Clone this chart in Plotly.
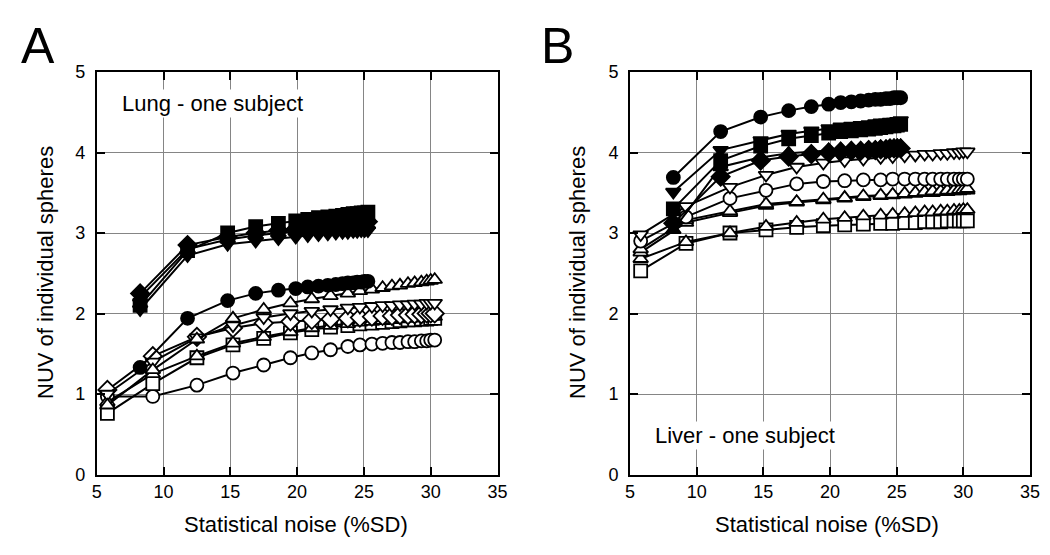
import plotly.graph_objects as go
from plotly.subplots import make_subplots

# x positions (statistical noise %SD)
hx = [5.8, 9.2, 12.5, 15.2, 17.5, 19.5, 21.1, 22.5, 23.8, 24.7, 25.6, 26.4, 27.1, 27.7, 28.3, 28.8, 29.3, 29.7, 30.0, 30.3]
fx = [8.25, 11.8, 14.8, 16.9, 18.6, 19.9, 20.8, 21.6, 22.3, 22.9, 23.4, 23.8, 24.2, 24.5, 24.8, 25.05, 25.3]

# Panel A - Lung (filled series)
A_f_square = [2.10, 2.78, 3.00, 3.08, 3.12, 3.15, 3.17, 3.19, 3.20, 3.21, 3.22, 3.23, 3.24, 3.24, 3.25, 3.25, 3.26]
A_f_diamond = [2.25, 2.85, 2.95, 3.00, 3.03, 3.05, 3.07, 3.08, 3.09, 3.10, 3.11, 3.12, 3.12, 3.13, 3.13, 3.14, 3.14]
A_f_triangle = [2.20, 2.80, 2.92, 2.97, 3.00, 3.02, 3.04, 3.05, 3.06, 3.07, 3.08, 3.08, 3.09, 3.09, 3.10, 3.10, 3.10]
A_f_tridown = [2.05, 2.72, 2.86, 2.90, 2.93, 2.95, 2.97, 2.98, 2.99, 3.00, 3.01, 3.01, 3.02, 3.02, 3.03, 3.03, 3.03]
A_f_circle = [1.33, 1.94, 2.16, 2.25, 2.29, 2.31, 2.33, 2.34, 2.35, 2.36, 2.37, 2.38, 2.38, 2.39, 2.39, 2.40, 2.40]
# Panel A - Lung (open series)
A_o_triangle = [0.86, 1.30, 1.68, 1.94, 2.05, 2.13, 2.18, 2.22, 2.25, 2.28, 2.30, 2.32, 2.34, 2.35, 2.37, 2.38, 2.39, 2.40, 2.41, 2.42]
A_o_tridown = [1.00, 1.40, 1.70, 1.85, 1.95, 2.00, 2.03, 2.05, 2.07, 2.08, 2.09, 2.10, 2.10, 2.11, 2.11, 2.12, 2.12, 2.13, 2.13, 2.13]
A_o_diamond = [1.05, 1.47, 1.71, 1.82, 1.88, 1.90, 1.92, 1.93, 1.94, 1.95, 1.96, 1.97, 1.97, 1.98, 1.98, 1.99, 1.99, 2.00, 2.00, 2.00]
A_o_triright = [0.90, 1.25, 1.47, 1.63, 1.71, 1.77, 1.82, 1.85, 1.87, 1.89, 1.90, 1.91, 1.92, 1.93, 1.94, 1.94, 1.95, 1.95, 1.96, 1.96]
A_o_square = [0.76, 1.13, 1.45, 1.61, 1.69, 1.76, 1.80, 1.83, 1.85, 1.87, 1.88, 1.89, 1.90, 1.91, 1.92, 1.92, 1.93, 1.93, 1.94, 1.94]
A_o_circle = [0.97, 0.97, 1.11, 1.26, 1.36, 1.45, 1.51, 1.55, 1.59, 1.61, 1.62, 1.63, 1.64, 1.64, 1.65, 1.65, 1.66, 1.66, 1.67, 1.67]

# Panel B - Liver (filled series)
B_f_circle = [3.69, 4.26, 4.44, 4.52, 4.57, 4.60, 4.62, 4.63, 4.64, 4.65, 4.66, 4.66, 4.67, 4.67, 4.68, 4.68, 4.68]
B_f_tridown = [3.51, 4.03, 4.15, 4.23, 4.27, 4.30, 4.32, 4.33, 4.34, 4.35, 4.36, 4.37, 4.37, 4.38, 4.38, 4.39, 4.40]
B_f_square = [3.30, 3.90, 4.08, 4.17, 4.21, 4.24, 4.26, 4.27, 4.28, 4.29, 4.30, 4.31, 4.32, 4.33, 4.33, 4.34, 4.35]
B_f_diamond = [3.12, 3.70, 3.90, 3.95, 3.98, 4.00, 4.01, 4.02, 4.02, 4.03, 4.03, 4.04, 4.04, 4.05, 4.05, 4.05, 4.05]
B_f_triangle = [3.04, 3.82, 3.94, 3.99, 4.01, 4.03, 4.04, 4.05, 4.05, 4.06, 4.06, 4.07, 4.07, 4.07, 4.08, 4.08, 4.08]
# Panel B - Liver (open series)
B_o_tridown = [2.98, 3.33, 3.57, 3.72, 3.82, 3.87, 3.90, 3.92, 3.94, 3.95, 3.96, 3.97, 3.98, 3.98, 3.99, 3.99, 4.00, 4.00, 4.01, 4.01]
B_o_circle = [2.90, 3.20, 3.43, 3.53, 3.61, 3.64, 3.65, 3.66, 3.66, 3.67, 3.67, 3.67, 3.67, 3.67, 3.67, 3.67, 3.67, 3.67, 3.67, 3.67]
B_o_triright = [2.80, 3.16, 3.27, 3.36, 3.39, 3.42, 3.44, 3.46, 3.47, 3.48, 3.49, 3.50, 3.51, 3.52, 3.52, 3.53, 3.53, 3.54, 3.54, 3.55]
B_o_diamond = [2.76, 3.13, 3.25, 3.34, 3.38, 3.41, 3.43, 3.45, 3.46, 3.47, 3.48, 3.49, 3.50, 3.50, 3.51, 3.51, 3.52, 3.52, 3.53, 3.53]
B_o_triangle = [2.68, 2.89, 3.00, 3.08, 3.13, 3.17, 3.19, 3.21, 3.22, 3.23, 3.24, 3.25, 3.26, 3.26, 3.27, 3.27, 3.28, 3.28, 3.29, 3.29]
B_o_square = [2.53, 2.87, 3.00, 3.04, 3.07, 3.09, 3.10, 3.11, 3.12, 3.12, 3.13, 3.13, 3.14, 3.14, 3.14, 3.15, 3.15, 3.15, 3.15, 3.15]

x_ticks = [5, 10, 15, 20, 25, 30, 35]
y_ticks = [0, 1, 2, 3, 4, 5]

FONT = "Liberation Sans, Arial, Helvetica, sans-serif"
W, H = 1034, 539   # figure size; page body margin (8px each side) brings it to the window size
OFF = 8            # page offset of the figure

fig = make_subplots(rows=1, cols=2)

def add(x, y, symbol, filled, col, size=13):
    fig.add_trace(go.Scatter(
        x=x, y=y, mode="lines+markers",
        line=dict(color="black", width=2),
        marker=dict(symbol=symbol, size=size,
                    color="black" if filled else "white",
                    line=dict(color="black", width=1.8)),
        showlegend=False, cliponaxis=False), row=1, col=col)

# Panel A
add(hx, A_o_circle, "circle", False, 1)
add(hx, A_o_square, "square", False, 1)
add(hx, A_o_triright, "triangle-up", False, 1)
add(hx, A_o_diamond, "diamond", False, 1, 14)
add(hx, A_o_tridown, "triangle-down", False, 1)
add(hx, A_o_triangle, "triangle-up", False, 1)
add(fx, A_f_circle, "circle", True, 1)
add(fx, A_f_tridown, "triangle-down", True, 1)
add(fx, A_f_triangle, "triangle-up", True, 1)
add(fx, A_f_diamond, "diamond", True, 1, 14)
add(fx, A_f_square, "square", True, 1)

# Panel B
add(hx, B_o_square, "square", False, 2)
add(hx, B_o_triangle, "triangle-up", False, 2)
add(hx, B_o_diamond, "triangle-up", False, 2)
add(hx, B_o_triright, "triangle-up", False, 2)
add(hx, B_o_circle, "circle", False, 2)
add(hx, B_o_tridown, "triangle-down", False, 2)
add(fx, B_f_triangle, "triangle-up", True, 2)
add(fx, B_f_diamond, "diamond", True, 2, 14)
add(fx, B_f_square, "square", True, 2)
add(fx, B_f_tridown, "triangle-down", True, 2)
add(fx, B_f_circle, "circle", True, 2)

axis_common = dict(
    showline=True, linecolor="black", linewidth=1.6, mirror="ticks",
    ticks="inside", ticklen=8, tickwidth=1.6, tickcolor="black",
    showgrid=True, gridcolor="#858585", gridwidth=1.3, zeroline=False,
    automargin=False, ticklabeloverflow="allow",
    tickfont=dict(family=FONT, size=18, color="black"),
)
ydom = [(H - (474.5 - OFF)) / H, (H - (72 - OFF)) / H]
fig.update_xaxes(**axis_common, range=[5, 35], tickvals=x_ticks)
fig.update_yaxes(**axis_common, range=[0, 5], tickvals=y_ticks, ticklabelstandoff=6)
fig.update_layout(
    xaxis=dict(domain=[(96.7 - OFF) / W, (497.5 - OFF) / W]),
    xaxis2=dict(domain=[(630 - OFF) / W, (1030 - OFF) / W]),
    yaxis=dict(domain=ydom),
    yaxis2=dict(domain=ydom),
)

ann = []
def paper_text(x, y, text, size, angle=0):
    ann.append(dict(xref="paper", yref="paper", x=(x - OFF) / W, y=1 - (y - OFF) / H,
                    text=text, showarrow=False, textangle=angle,
                    font=dict(family=FONT, size=size, color="black"),
                    xanchor="center", yanchor="middle"))

paper_text(38, 46, "A", 50)
paper_text(557, 46, "B", 50)
paper_text(296, 524, "Statistical noise (%SD)", 22)
paper_text(827, 524, "Statistical noise (%SD)", 22)
paper_text(45, 273, "NUV of individual spheres", 22, -90)
paper_text(577, 273, "NUV of individual spheres", 22, -90)

ann.append(dict(xref="x", yref="y", x=6.75, y=4.61, text="Lung - one subject",
                showarrow=False, xanchor="left", yanchor="middle", bgcolor="white",
                font=dict(family=FONT, size=22, color="black")))
ann.append(dict(xref="x2", yref="y2", x=6.75, y=0.485, text="Liver - one subject",
                showarrow=False, xanchor="left", yanchor="middle", bgcolor="white",
                font=dict(family=FONT, size=22, color="black")))

fig.update_layout(
    width=W, height=H,
    margin=dict(l=0, r=0, t=0, b=0, autoexpand=False),
    paper_bgcolor="white", plot_bgcolor="white",
    annotations=ann,
    font=dict(family=FONT, color="black"),
)

fig.write_html("out.html")
